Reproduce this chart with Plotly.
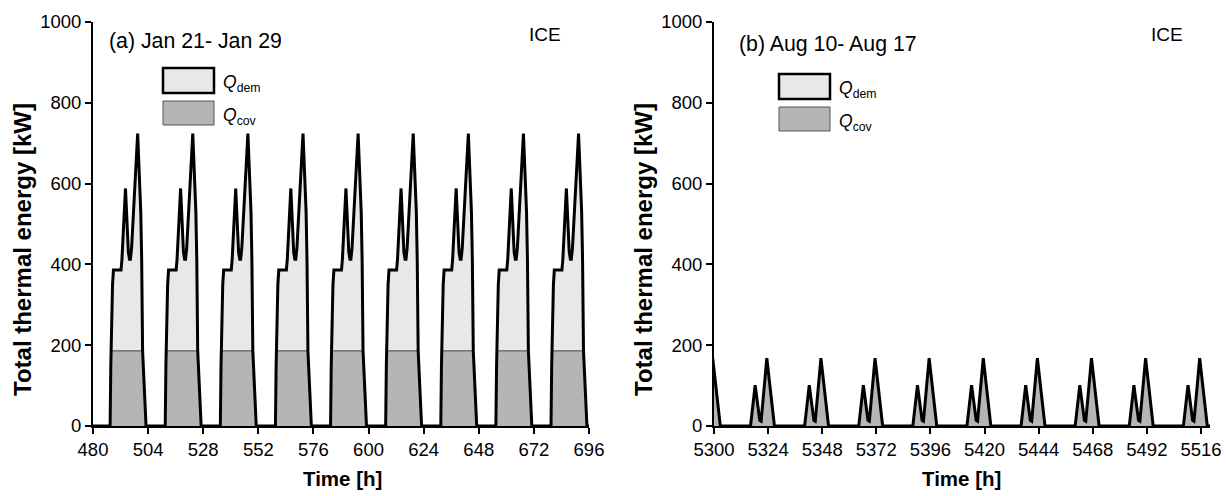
import numpy as np
import plotly.graph_objects as go

# Winter week: daily heat demand profile (hour of day -> kW)
jan_hour = [0, 7.45, 7.75, 8.1, 8.5, 8.9, 12.2, 12.6, 14.15, 15.4, 15.9, 16.3, 16.8, 19.45, 20.8, 21.2, 21.6, 23.1, 24]
jan_dem = [0, 0, 150, 270, 350, 386, 386, 412, 588, 430, 413, 413, 440, 724, 530, 411, 186, 0, 0]
jan_day_start = [480, 504, 528, 552, 576, 600, 624, 648, 672]

# Summer week: daily heat demand profile (hour of day -> kW)
aug_hour = [0, 12.2, 14.25, 16.3, 16.9, 19.43, 22.8, 24]
aug_dem = [0, 0, 101, 14, 12, 168, 0, 0]
aug_day_start = [5280, 5304, 5328, 5352, 5376, 5400, 5424, 5448, 5472, 5496]

# Thermal output available from the ICE unit [kW]
ice_capacity = 186

jan_ticks = [480, 504, 528, 552, 576, 600, 624, 648, 672, 696]
aug_ticks = [5300, 5324, 5348, 5372, 5396, 5420, 5444, 5468, 5492, 5516]
y_ticks = [0, 200, 400, 600, 800, 1000]

W, H = 1226, 496
FONT = "Liberation Sans, Arial, sans-serif"
DEM_FILL = "#e8e8e8"
COV_FILL = "#b5b5b5"


def build_series(day_start, hours, values):
    t, q = [], []
    for d in day_start:
        for h, v in zip(hours, values):
            t.append(d + h)
            q.append(v)
    t = np.array(t, dtype=float)
    q = np.array(q, dtype=float)
    return t, q, np.minimum(q, ice_capacity)


def px(x):
    return x / W


def py(y):
    return 1 - y / H


fig = go.Figure()

panels = [
    (build_series(jan_day_start, jan_hour, jan_dem), "x", "y"),
    (build_series(aug_day_start, aug_hour, aug_dem), "x2", "y2"),
]
for (t, dem, cov), xa, ya in panels:
    fig.add_trace(go.Scatter(x=t, y=dem, mode="lines", fill="tozeroy",
                             fillcolor=DEM_FILL, line=dict(width=0, color=DEM_FILL),
                             xaxis=xa, yaxis=ya, showlegend=False, hoverinfo="skip"))
    fig.add_trace(go.Scatter(x=t, y=cov, mode="lines", fill="tozeroy",
                             fillcolor=COV_FILL, line=dict(width=1, color="#444444"),
                             xaxis=xa, yaxis=ya, showlegend=False, hoverinfo="skip"))
    fig.add_trace(go.Scatter(x=t, y=dem, mode="lines",
                             line=dict(width=3, color="black"),
                             xaxis=xa, yaxis=ya, showlegend=False))

axis_common = dict(showgrid=False, zeroline=False, showline=True, linecolor="black",
                   linewidth=2, ticks="outside", ticklen=6, tickwidth=2, tickcolor="black",
                   automargin=False,
                   tickfont=dict(family=FONT, size=18.5, color="black"))

fig.update_layout(
    width=W, height=H, margin=dict(l=0, r=0, t=0, b=0),
    paper_bgcolor="white", plot_bgcolor="white",
    xaxis=dict(domain=[px(93), px(589)], range=[480, 696], tickvals=jan_ticks,
               anchor="y", **axis_common),
    yaxis=dict(domain=[py(426), py(22)], range=[0, 1000], tickvals=y_ticks,
               anchor="x", **axis_common),
    xaxis2=dict(domain=[px(714), px(1210)], range=[5300, 5520], tickvals=aug_ticks,
                anchor="y2", **axis_common),
    yaxis2=dict(domain=[py(426), py(22)], range=[0, 1000], tickvals=y_ticks,
                anchor="x2", **axis_common),
)

ann = []
shapes = []


def text(x, y, s, size, xanchor="center", angle=0):
    ann.append(dict(x=px(x), y=py(y), xref="paper", yref="paper", text=s, showarrow=False,
                    xanchor=xanchor, yanchor="middle", textangle=angle,
                    font=dict(family=FONT, size=size, color="black")))


# axis titles
for x_ylab, x_time in [(22, 342), (643, 962)]:
    text(x_ylab, 250, "<b>Total thermal energy [kW]</b>", 24, angle=-90)
    text(x_time, 478, "<b>Time [h]</b>", 20.5)

# panel captions
text(107, 41, "(a) Jan 21- Jan 29", 21.3, xanchor="left")
text(545, 34, "ICE", 19)
text(737, 44, "(b) Aug 10- Aug 17", 21.3, xanchor="left")
text(1167, 34, "ICE", 19)

# in-plot legends
for x0, y_dem, y_cov in [(163, 68, 101), (779, 74, 107)]:
    shapes.append(dict(type="rect", xref="paper", yref="paper",
                       x0=px(x0), x1=px(x0 + 51), y0=py(y_dem), y1=py(y_dem + 25),
                       fillcolor=DEM_FILL, line=dict(color="black", width=2.5)))
    shapes.append(dict(type="rect", xref="paper", yref="paper",
                       x0=px(x0), x1=px(x0 + 51), y0=py(y_cov), y1=py(y_cov + 24),
                       fillcolor=COV_FILL, line=dict(color="#555555", width=1)))
    text(x0 + 58, y_dem + 15, "<i>Q</i><sub>dem</sub>", 17.5, xanchor="left")
    text(x0 + 58, y_cov + 15, "<i>Q</i><sub>cov</sub>", 17.5, xanchor="left")

fig.update_layout(annotations=ann, shapes=shapes)

fig.write_html("out.html")
